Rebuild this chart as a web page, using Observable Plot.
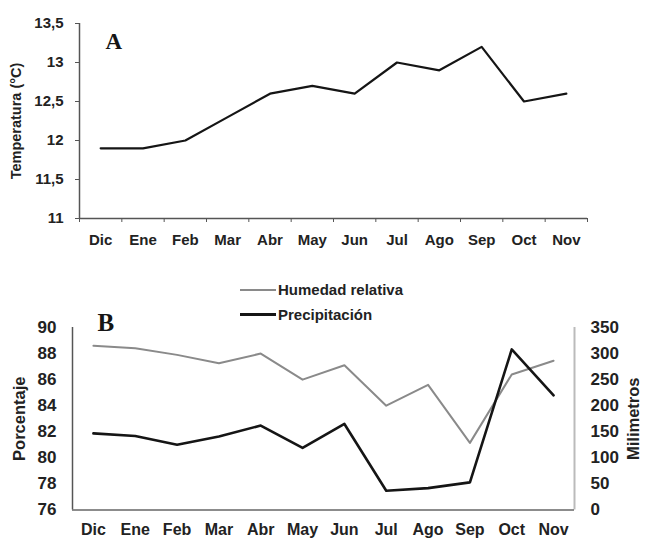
<!DOCTYPE html>
<html>
<head>
<meta charset="utf-8">
<script src="https://cdn.jsdelivr.net/npm/d3@7"></script>
<script src="https://cdn.jsdelivr.net/npm/@observablehq/plot@0.6"></script>
<style>
  html, body { margin: 0; padding: 0; background: #fff; }
  #wrap { position: relative; width: 648px; height: 538px; background: #fff; font-family: "Liberation Sans", Arial, sans-serif; }
  #a, #b { position: absolute; left: 0; }
  #a { top: 0; }
  #b { top: 260px; }
  .leg { position: absolute; left: 240px; display: flex; align-items: center; font-size: 15px; font-weight: bold; color: #222; }
  .leg span.sw { display: inline-block; width: 36px; margin-right: 2px; }
</style>
</head>
<body>
<div id="wrap">
  <div id="a"></div>
  <div id="b"></div>
  <div class="leg" style="top:281px"><span class="sw" style="border-top:2px solid #8a8a8a"></span>Humedad relativa</div>
  <div class="leg" style="top:306px"><span class="sw" style="border-top:3px solid #151515"></span>Precipitación</div>
</div>
<script>
const months = ["Dic","Ene","Feb","Mar","Abr","May","Jun","Jul","Ago","Sep","Oct","Nov"];
const temperatura = [11.9, 11.9, 12.0, 12.3, 12.6, 12.7, 12.6, 13.0, 12.9, 13.2, 12.5, 12.6];
const humedad = [88.6, 88.4, 87.9, 87.25, 88.0, 86.0, 87.1, 84.0, 85.6, 81.15, 86.4, 87.45];
const precipitacion = [147, 142, 125, 141, 162, 119, 165, 37, 42, 53, 308, 220];
const tempTicks = [11, 11.5, 12, 12.5, 13, 13.5];
const pctTicks = [76, 78, 80, 82, 84, 86, 88, 90];
const mmTicks = [0, 50, 100, 150, 200, 250, 300, 350];

const dataA = months.map((m, i) => ({i, m, t: temperatura[i]}));
const dataB = months.map((m, i) => ({i, m, h: humedad[i], p: precipitacion[i]}));
const toLeft = v => 76 + v / 350 * 14;
const fromLeft = d => Math.round((d - 76) / 14 * 350);
const centers = d3.range(12).map(i => i + 0.5);

const chartA = Plot.plot({
  width: 648, height: 260,
  marginTop: 23, marginBottom: 42, marginLeft: 79, marginRight: 61,
  style: {fontFamily: "Liberation Sans, Arial, sans-serif", fontSize: "15px", fontWeight: "bold", color: "#222", background: "transparent"},
  x: {domain: [0, 12], axis: null},
  y: {domain: [11, 13.5], axis: null},
  marks: [
    Plot.axisY({ticks: tempTicks, tickFormat: d => String(d).replace(".", ","), tickSize: 4, tickPadding: 12, stroke: "#555", label: null}),
    Plot.axisX({ticks: d3.range(0, 13), tickFormat: () => "", tickSize: 4, stroke: "#555", label: null}),
    Plot.axisX({ticks: centers, tickFormat: d => months[Math.floor(d)], tickSize: 0, tickPadding: 16, label: null}),
    Plot.ruleX([0], {stroke: "#555", strokeWidth: 1.5}),
    Plot.ruleY([11], {stroke: "#555", strokeWidth: 1.5}),
    Plot.line(dataA, {x: d => d.i + 0.5, y: "t", stroke: "#151515", strokeWidth: 2.2}),
    Plot.text(["A"], {frameAnchor: "top-left", textAnchor: "start", lineAnchor: "top", dx: 26, dy: 9, fontFamily: "Liberation Serif, Times New Roman, serif", fontSize: 23, fontWeight: "bold", fill: "#151515"}),
    Plot.text(["Temperatura (°C)"], {frameAnchor: "left", textAnchor: "middle", lineAnchor: "middle", rotate: -90, dx: -63, fontSize: 14.5, fontWeight: "bold", fill: "#222"})
  ]
});
document.getElementById("a").appendChild(chartA);

const chartB = Plot.plot({
  width: 648, height: 278,
  marginTop: 67, marginBottom: 28.5, marginLeft: 72, marginRight: 74,
  style: {fontFamily: "Liberation Sans, Arial, sans-serif", fontSize: "17px", fontWeight: "bold", color: "#222", background: "transparent"},
  x: {domain: [0, 12], axis: null},
  y: {domain: [76, 90], axis: null},
  marks: [
    Plot.axisY({ticks: pctTicks, tickSize: 0, tickPadding: 16, label: null}),
    Plot.axisY({anchor: "right", ticks: mmTicks.map(toLeft), tickFormat: fromLeft, tickSize: 0, tickPadding: 16, label: null}),
    Plot.axisX({ticks: centers, tickFormat: d => months[Math.floor(d)], tickSize: 0, tickPadding: 14, fontSize: 16, label: null}),
    Plot.ruleX([0], {stroke: "#555", strokeWidth: 1.5}),
    Plot.ruleX([12], {stroke: "#bbb", strokeWidth: 2}),
    Plot.ruleY([76], {stroke: "#666", strokeWidth: 1.5}),
    Plot.line(dataB, {x: d => d.i + 0.5, y: "h", stroke: "#8a8a8a", strokeWidth: 2}),
    Plot.line(dataB, {x: d => d.i + 0.5, y: d => toLeft(d.p), stroke: "#151515", strokeWidth: 2.6}),
    Plot.text(["B"], {frameAnchor: "top-left", textAnchor: "start", lineAnchor: "top", dx: 25, dy: -14, fontFamily: "Liberation Serif, Times New Roman, serif", fontSize: 25, fontWeight: "bold", fill: "#151515"}),
    Plot.text(["Porcentaje"], {frameAnchor: "left", textAnchor: "middle", lineAnchor: "middle", rotate: -90, dx: -53, fontSize: 16.5, fontWeight: "bold", fill: "#222"}),
    Plot.text(["Milimetros"], {frameAnchor: "right", textAnchor: "middle", lineAnchor: "middle", rotate: -90, dx: 59, fontSize: 16.5, fontWeight: "bold", fill: "#222"})
  ]
});
document.getElementById("b").appendChild(chartB);
</script>
</body>
</html>
